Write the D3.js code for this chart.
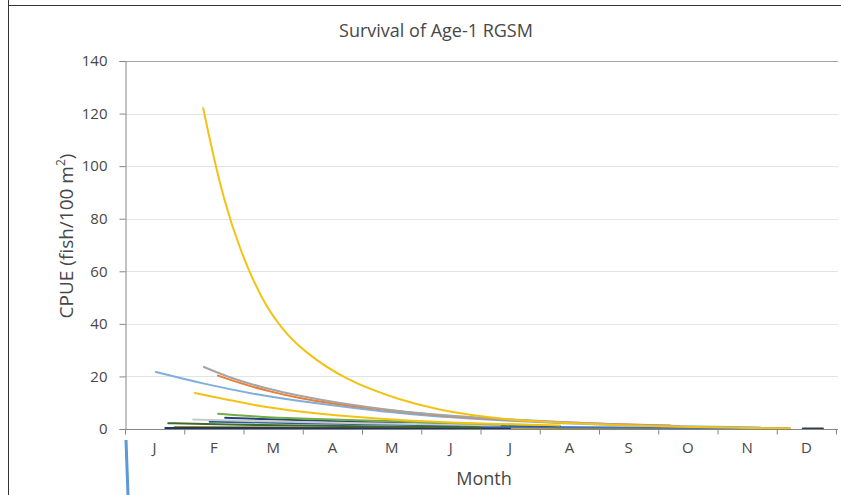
<!DOCTYPE html>
<html>
<head>
<meta charset="utf-8">
<script src="https://cdn.jsdelivr.net/npm/d3@7"></script>
<style>
  body { margin: 0; background: #fff; }
  text { font-family: "Open Sans", "Liberation Sans", sans-serif; fill: #474747; }
</style>
</head>
<body>
<svg id="chart" width="841" height="495"></svg>
<script>
// month labels, one per month slot on the x axis
var months = ["J", "F", "M", "A", "M", "J", "J", "A", "S", "O", "N", "D"];
var yTicks = [0, 20, 40, 60, 80, 100, 120, 140];

// curves: [month position (0 = start of Jan), CPUE]
var goldBig = [[1.32,122],[1.47,106],[1.67,87],[1.94,68],[2.31,49],[2.65,38],[2.99,30],[3.71,18.6],[4.64,11],[5.32,7.2],[5.82,5.3],[6.50,3.5],[7.34,2.3],[8.35,1.4],[9.37,0.8],[10.38,0.4],[11.22,0.2]];
var grey = [[1.33,23.6],[1.77,19.5],[2.28,16],[2.95,12.5],[3.63,9.8],[4.47,7.2],[5.15,5.6],[5.82,4.5],[6.50,3.6],[7.34,2.6],[8.35,1.7],[9.37,1.1]];
var orange = [[1.57,20.3],[1.94,17.4],[2.45,14.2],[2.95,11.7],[3.46,9.8],[3.97,8.3],[4.64,6.6],[5.32,5.1],[6.16,3.8],[7.00,2.9],[8.01,2],[9.20,1.3]];
var lightBlue = [[0.52,21.7],[1.27,17.4],[2.28,12.8],[2.95,10.6],[3.80,8.2],[4.47,6.4],[5.15,5],[5.82,4],[6.50,3.1],[7.34,2.2],[8.52,1.4],[9.70,0.9],[10.72,0.6]];
var goldSmall = [[1.18,13.7],[1.77,11],[2.28,8.6],[2.95,6.6],[3.63,5],[4.47,3.6],[5.15,2.8],[5.82,2.2],[6.50,1.8],[7.34,1.3]];
var green = [[1.57,5.8],[2.28,4.6],[2.95,4],[3.63,3.5],[4.47,3],[5.15,2.5],[6.00,1.9],[7.00,1.4]];
var paleGrey = [[1.15,3.6],[1.94,3.1],[2.95,2.6],[3.97,2.2],[5.15,1.8],[6.33,1.4]];
var darkBlue = [[1.69,4.3],[2.28,3.8],[2.95,3.3],[3.97,2.7],[5.15,2],[6.33,1.5],[7.34,1.1]];
var steelBlue = [[1.43,2.8],[2.28,2.5],[3.29,2.1],[4.47,1.7],[5.65,1.3]];
var darkGreen = [[0.73,2.2],[1.27,1.9],[2.28,1.5],[3.29,1.2],[4.64,0.9],[6.00,0.6]];
var olive = [[0.84,0.8],[2.28,0.7],[3.97,0.6],[5.65,0.5],[7.34,0.4],[9.70,0.3],[11.22,0.25]];
var navy = [[0.68,0.4],[1.77,0.35],[3.29,0.3],[4.98,0.3],[6.50,0.25]];
var blue = [[4.98,1.2],[6.33,0.9],[7.68,0.7],[9.03,0.5],[10.38,0.35]];
var slate = [[11.44,0.2],[11.78,0.15]];

var series = [
  { data: olive, color: "#9E8E2A" },
  { data: navy, color: "#1F3864" },
  { data: blue, color: "#4472C4" },
  { data: slate, color: "#333F50" },
  { data: darkGreen, color: "#43682B" },
  { data: steelBlue, color: "#255E91" },
  { data: darkBlue, color: "#264478" },
  { data: paleGrey, color: "#C9C9C9" },
  { data: green, color: "#70AD47" },
  { data: goldSmall, color: "#F2C314" },
  { data: lightBlue, color: "#7EAEDC" },
  { data: orange, color: "#ED7D31" },
  { data: grey, color: "#A5A5A5" },
  { data: goldBig, color: "#F2C314" }
];

var svg = d3.select("#chart");

// outer frame of the pasted chart
svg.append("line").attr("x1", 8.5).attr("x2", 8.5).attr("y1", 0).attr("y2", 495)
  .attr("stroke", "#333").attr("stroke-width", 1);
svg.append("line").attr("x1", 8).attr("x2", 841).attr("y1", 5.5).attr("y2", 5.5)
  .attr("stroke", "#333").attr("stroke-width", 1);

var x = d3.scaleLinear().domain([0, 12]).range([125, 836]);
var y = d3.scaleLinear().domain([0, 140]).range([429, 61]);

// grid
svg.append("g").selectAll("line")
  .data(yTicks.filter(d => d > 0))
  .enter().append("line")
  .attr("x1", 125).attr("x2", 838)
  .attr("y1", d => Math.round(y(d)) + 0.5).attr("y2", d => Math.round(y(d)) + 0.5)
  .attr("stroke", d => d == 140 ? "#A6A6A6" : "#E3E3E3");

// y axis
var yAxis = svg.append("g").attr("transform", "translate(125.5,0)")
  .call(d3.axisLeft(y).tickValues(yTicks).tickSize(6).tickPadding(12));
yAxis.select(".domain").attr("stroke", "#868686");
yAxis.selectAll(".tick line").attr("stroke", "#868686");
yAxis.selectAll("text").attr("font-size", 15).attr("fill", "#474747")
  .attr("font-family", "'Open Sans', sans-serif");

// curves
var line = d3.line()
  .x(d => x(d[0]))
  .y(d => y(d[1]))
  .curve(d3.curveBasis);

svg.append("g").selectAll("path")
  .data(series)
  .enter().append("path")
  .attr("d", d => line(d.data))
  .attr("fill", "none")
  .attr("stroke", d => d.color)
  .attr("stroke-width", 2)
  .attr("stroke-linecap", "round");

// x axis
var xAxis = svg.append("g").attr("transform", "translate(0," + (Math.round(y(0)) + 0.5) + ")")
  .call(d3.axisBottom(x).tickValues(d3.range(0, 13)).tickSize(5).tickFormat(""));
xAxis.select(".domain").attr("stroke", "#868686").attr("d", "M125,0H838");
xAxis.selectAll(".tick line").attr("stroke", "#868686");

svg.append("g").selectAll("text")
  .data(months)
  .enter().append("text")
  .attr("x", (d, i) => x(i + 0.5))
  .attr("y", 453)
  .attr("text-anchor", "middle")
  .attr("font-size", 15)
  .text(d => d);

// titles
svg.append("text").attr("x", 436).attr("y", 37).attr("text-anchor", "middle")
  .attr("font-size", 18).text("Survival of Age-1 RGSM");

svg.append("text").attr("x", 484).attr("y", 485).attr("text-anchor", "middle")
  .attr("font-size", 18).text("Month");

var ylab = svg.append("text")
  .attr("transform", "translate(73,236) rotate(-90)")
  .attr("text-anchor", "middle")
  .attr("font-size", 19);
ylab.append("tspan").text("CPUE (fish/100 m");
ylab.append("tspan").attr("font-size", 12).attr("dy", -8).text("2");
ylab.append("tspan").attr("dy", 8).text(")");

// stray blue stroke under the axis
svg.append("line").attr("x1", 126).attr("x2", 128).attr("y1", 440).attr("y2", 495)
  .attr("stroke", "#5B9BD5").attr("stroke-width", 3);
</script>
</body>
</html>
